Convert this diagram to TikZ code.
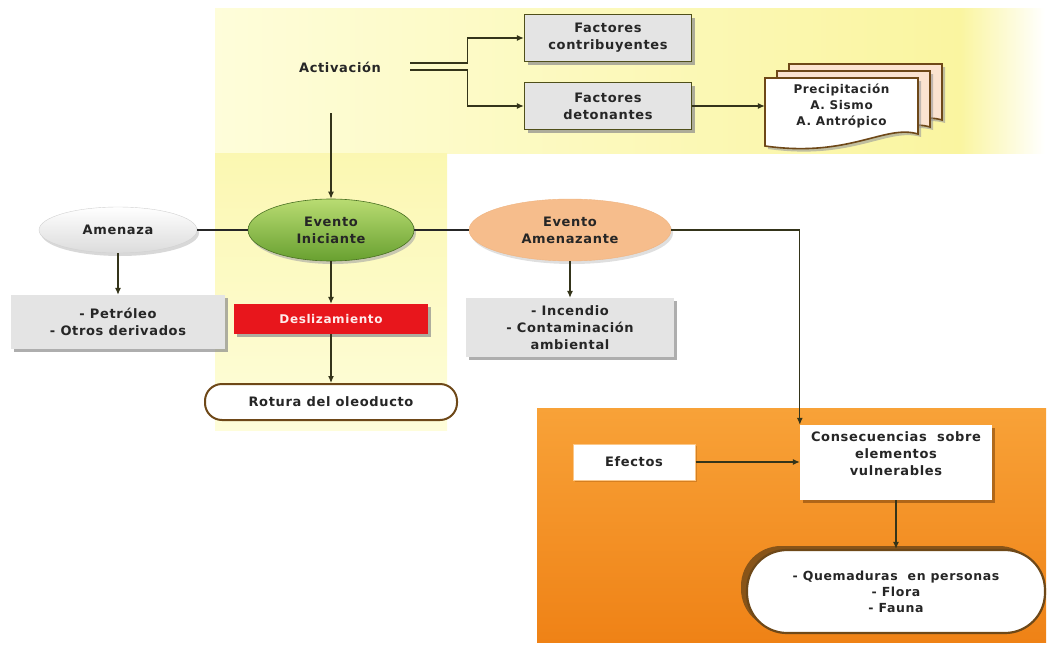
\documentclass[tikz,border=0pt]{standalone}
\usepackage{fontspec}
\setmainfont{DejaVu Sans}
\newfontfamily\lblfont[LetterSpace=5]{DejaVu Sans}
\usetikzlibrary{arrows.meta,shadows,shapes.geometric,calc}

\definecolor{conn}{HTML}{34341A}
\definecolor{olive}{HTML}{4F4F1A}
\definecolor{boxgray}{HTML}{E4E4E4}
\definecolor{ylight}{HTML}{FEFDDA}
\definecolor{ymain}{HTML}{FAF5A0}
\definecolor{orgtop}{HTML}{F8A238}
\definecolor{orgbot}{HTML}{EF8216}
\definecolor{greenhi}{HTML}{B9DC72}
\definecolor{greenlo}{HTML}{68A030}
\definecolor{salmon}{HTML}{F6BD8C}
\definecolor{redbox}{HTML}{E8161C}
\definecolor{brownline}{HTML}{6E4818}
\definecolor{docback}{HTML}{FBE3D0}

\tikzset{
  lbl/.style={font=\lblfont\bfseries\fontsize{13}{17}\selectfont, align=center, text=black!85},
  arr/.style={draw=conn, line width=1.1pt, -{Latex[length=7pt,width=6pt]}},
  link/.style={draw=black!85, line width=2.2pt},
  shad/.style={drop shadow={shadow xshift=3pt, shadow yshift=-3pt, fill=black!45, opacity=.7}},
  factbox/.style={lbl, rectangle, fill=boxgray, draw=olive, line width=1.4pt,
    minimum width=167pt, minimum height=47pt, inner sep=2pt, shad},
  listbox/.style={lbl, rectangle, fill=boxgray, minimum height=54pt, inner sep=2pt, shad},
  whitebox/.style={lbl, rectangle, fill=white, inner sep=2pt},
  docpath/.style={draw=brownline, line width=1.6pt, drop shadow={shadow xshift=3pt, shadow yshift=-3pt, fill=black!40, opacity=.6}},
}

\begin{document}
\begin{tikzpicture}[x=1pt,y=1pt]
\path[use as bounding box] (0,0) rectangle (1053,-645);

% pale yellow band and column behind the activation part
\shade[left color=ylight, right color=ymain] (215,-8) rectangle (960,-153);
\shade[left color=ymain, right color=white] (960,-8) rectangle (1045,-153);
\shade[top color=ymain!70!ylight, bottom color=ylight] (215,-153) rectangle (447,-430);

% orange block of consequences
\shade[top color=orgtop, bottom color=orgbot] (537,-408) rectangle (1046,-642);

% activation and its factors
\node[lbl] (act) at (340,-67) {Activación};
\node[factbox] (fc) at (608,-38) {Factores\\contribuyentes};
\node[factbox] (fd) at (608,-106) {Factores\\detonantes};

\draw[arr] ([xshift=26pt,yshift=4pt]act.east) -- ++(57,0) |- (fc.west);
\draw[arr] ([xshift=26pt,yshift=-3pt]act.east) -- ++(57,0) |- (fd.west);

% stacked documents with the triggers
\foreach \dx/\dy/\c in {24/14/docback, 12/7/docback, 0/0/white}{
  \draw[docpath, fill=\c]
    (765+\dx,-78+\dy) -- (918+\dx,-78+\dy) -- (918+\dx,-134+\dy)
    .. controls (885+\dx,-124+\dy) and (850+\dx,-158+\dy) .. (765+\dx,-146+\dy) -- cycle;
}
\node[lbl, font=\lblfont\bfseries\fontsize{12}{16}\selectfont, minimum width=153pt, inner sep=0pt] (doc) at (841.5,-106)
  {Precipitación\\A. Sismo\\A. Antrópico};
\draw[arr] (fd.east) -- (doc.west);

% initiating event and neighbours
\node[lbl, ellipse, minimum width=166pt, minimum height=62pt, inner sep=0pt,
      top color=greenhi, bottom color=greenlo, draw=greenlo!70!black, line width=.6pt,
      drop shadow={shadow xshift=2pt, shadow yshift=-3pt, fill=black!35, opacity=.6}]
  (ini) at (331,-230) {Evento\\Iniciante};
\node[lbl, ellipse, minimum width=158pt, minimum height=46pt, inner sep=0pt,
      top color=white, bottom color=black!14, draw=black!18,
      drop shadow={shadow xshift=2pt, shadow yshift=-3pt, fill=black!30, opacity=.5}]
  (amz) at (118,-230) {Amenaza};
\node[lbl, ellipse, minimum width=202pt, minimum height=62pt, inner sep=0pt,
      fill=salmon, draw=salmon!85!brown,
      drop shadow={shadow xshift=2pt, shadow yshift=-3pt, fill=black!25, opacity=.5}]
  (eam) at (570,-230) {Evento\\Amenazante};

\coordinate (vtop) at (331,-113);
\draw[arr] (vtop) -- (ini.north);

\draw[link] (amz.east) -- (ini.west);
\draw[link] (ini.east) -- (eam.west);

% branches below the events
\node[listbox, minimum width=214pt] (pet) at (118,-322) {- Petróleo\\- Otros derivados};
\draw[arr] (amz.south) -- (pet.north);

\node[lbl, rectangle, fill=redbox, text=white!92!red, minimum width=194pt, minimum height=30pt,
      inner sep=0pt, font=\lblfont\bfseries\fontsize{12}{14}\selectfont, shad] (des) at (331,-319) {Deslizamiento};
\draw[arr] (ini.south) -- (des.north);

\node[lbl, rectangle, rounded corners=17pt, fill=white, draw=brownline, line width=2pt,
      minimum width=252pt, minimum height=36pt, inner sep=0pt] (rot) at (331,-402) {Rotura del oleoducto};
\draw[arr] (des.south) -- (rot.north);

\node[listbox, minimum width=208pt, minimum height=59pt] (inc) at (570,-327.5)
  {- Incendio\\- Contaminación\\ambiental};
\draw[arr] (eam.south) -- (inc.north);

% consequences
\node[whitebox, minimum width=122pt, minimum height=36pt, draw=orgtop!60!white, line width=1pt,
      drop shadow={shadow xshift=2pt, shadow yshift=-2pt, fill=orgbot!70!black, opacity=.4}]
  (efe) at (634,-462) {Efectos};
\node[whitebox, minimum width=192pt, minimum height=75pt,
      drop shadow={shadow xshift=3pt, shadow yshift=-3pt, fill=orgbot!55!black, opacity=.6}]
  (con) at (896,-462.5) {};
\node[lbl] (contxt) at (896,-454) {Consecuencias~~sobre\\elementos\\vulnerables};
\draw[arr] (efe.east) -- (efe.east -| con.west);
\draw[arr] (eam.east) -| (con.north west);

\fill[brownline!80!orgbot, rounded corners=40pt] (741,-546) rectangle (1039,-629);
\node[lbl, rectangle, rounded corners=40pt, fill=white, draw=brownline, line width=2.2pt,
      minimum width=298pt, minimum height=83pt, inner sep=0pt,
      font=\lblfont\bfseries\fontsize{12.5}{16}\selectfont] (que) at (896,-591.5)
  {- Quemaduras~~en personas\\- Flora\\- Fauna};
\draw[arr] (con.south) -- (que.north);

\end{tikzpicture}
\end{document}
